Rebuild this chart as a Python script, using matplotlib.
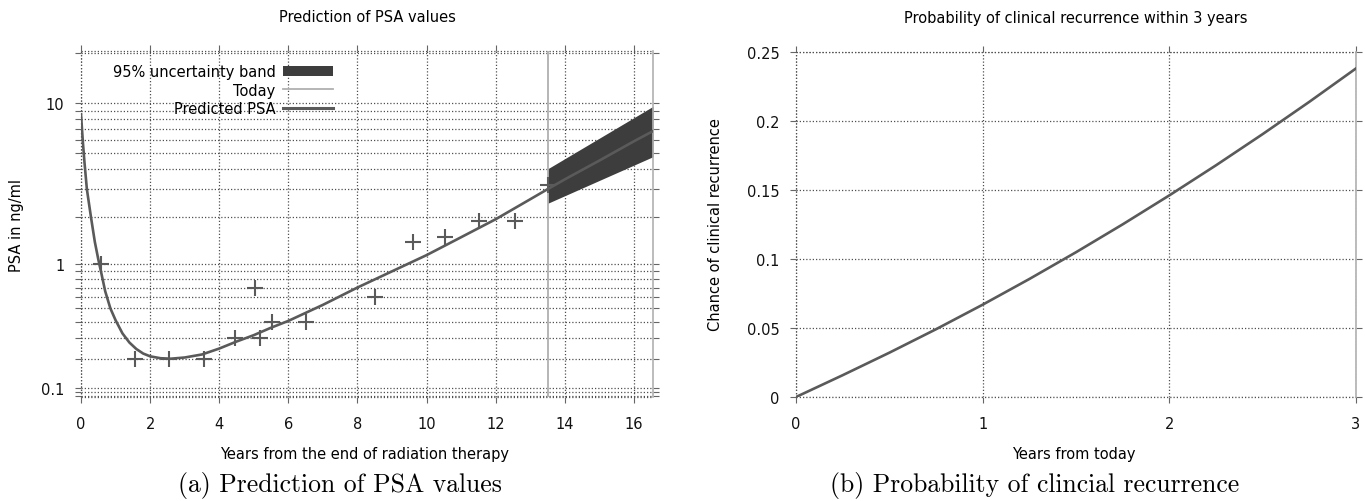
import numpy as np
import matplotlib
matplotlib.use("Agg")
import matplotlib.pyplot as plt
from matplotlib.patches import Patch
from matplotlib.lines import Line2D
from matplotlib.ticker import FixedLocator, FixedFormatter, NullFormatter

# ---------------- data ----------------
# observed PSA measurements (years, ng/ml)
obs_years = [0.57, 1.55, 2.55, 3.55, 4.46, 5.04, 5.19, 5.54, 6.51, 8.52, 9.6, 10.54, 11.52, 12.55, 13.5]
obs_psa = [1.0, 0.2, 0.2, 0.2, 0.3, 0.7, 0.3, 0.4, 0.4, 0.6, 1.4, 1.5, 1.9, 1.9, 3.2]

# predicted PSA curve
pred_years = [0.0, 0.05, 0.1, 0.17, 0.29, 0.4, 0.5, 0.6, 0.7, 0.85, 1.0, 1.2, 1.4, 1.6, 1.8,
              2.0, 2.3, 2.6, 3.0, 3.5, 4.0, 4.5, 5.0, 5.5, 6.0, 7.0, 8.0, 9.0, 10.0, 11.0,
              12.0, 13.0, 13.5, 14.0, 15.0, 16.0, 16.55]
pred_psa = [8.6, 6.0, 4.4, 3.0, 2.0, 1.4, 1.08, 0.85, 0.66, 0.5, 0.41, 0.325, 0.275, 0.243, 0.222,
            0.21, 0.202, 0.2, 0.205, 0.218, 0.245, 0.28, 0.315, 0.36, 0.405, 0.53, 0.7, 0.9, 1.15, 1.5,
            1.95, 2.6, 3.0, 3.45, 4.5, 5.9, 6.8]

# 95% uncertainty band
band_years = [13.5, 16.55]
band_low = [2.45, 4.75]
band_high = [4.0, 9.6]

today = 13.5

# probability of clinical recurrence
rec_years = [0, 0.25, 0.5, 0.75, 1.0, 1.25, 1.5, 1.75, 2.0, 2.25, 2.5, 2.75, 3.0]
rec_prob = [0, 0.0158, 0.0321, 0.0491, 0.0669, 0.0855, 0.1049, 0.1251, 0.1461, 0.1679, 0.1905, 0.2139, 0.2381]

psa_major = [0.1, 1, 10]
psa_major_labels = ["0.1", "1", "10"]
psa_minor = [0.08, 0.09, 0.2, 0.3, 0.4, 0.5, 0.6, 0.7, 0.8, 0.9, 2, 3, 4, 5, 6, 7, 8, 9, 20]
prob_ticks = [0, 0.05, 0.1, 0.15, 0.2, 0.25]
prob_labels = ["0", "0.05", "0.1", "0.15", "0.2", "0.25"]

# ---------------- style ----------------
W, H = 1365, 502
fig = plt.figure(figsize=(W / 100, H / 100), dpi=100)
plt.rcParams['font.family'] = ['DejaVu Sans']

line_col = '#5a5a5a'
band_col = '#3d3d3d'
today_col = '#b0b0b0'
grid_kw = dict(color='#505050', linestyle=(0, (1, 1.6)), linewidth=0.9)
tick_fs = 10.5
lab_fs = 10.5

def px_axes(x0, x1, ytop, ybot):
    return fig.add_axes([x0 / W, 1 - ybot / H, (x1 - x0) / W, (ybot - ytop) / H])

def style_axes(ax):
    for s in ['left', 'top', 'bottom']:
        ax.spines[s].set_visible(False)
    ax.spines['right'].set_color(today_col)
    ax.spines['right'].set_linewidth(1.2)
    ax.tick_params(which='both', direction='out', length=4, width=0.8, color='#666666',
                   top=True, right=True, labelsize=tick_fs, labelcolor='#111111')
    ax.tick_params(axis='x', pad=10)
    ax.tick_params(axis='y', pad=8)
    ax.set_axisbelow(True)

def edge_lines(ax):
    x0, x1 = ax.get_xlim()
    y0, y1 = ax.get_ylim()
    ax.axhline(y0, clip_on=False, zorder=1, **grid_kw)
    ax.axhline(y1, clip_on=False, zorder=1, **grid_kw)
    ax.axvline(x0, clip_on=False, zorder=1, **grid_kw)

# ---------------- left panel ----------------
c = 0.1
ax1 = px_axes(81, 653, 52, 398)
ax1.set_yscale('function', functions=(lambda y: np.log10(np.asarray(y) + c),
                                      lambda f: 10 ** np.asarray(f) - c))
ax1.set_xlim(0, 16.55)
ax1.set_ylim(0.077, 20.7)
ax1.yaxis.set_major_locator(FixedLocator(psa_major))
ax1.yaxis.set_major_formatter(FixedFormatter(psa_major_labels))
ax1.yaxis.set_minor_locator(FixedLocator(psa_minor))
ax1.yaxis.set_minor_formatter(NullFormatter())
ax1.set_xticks(np.arange(0, 17, 2))
style_axes(ax1)
ax1.grid(True, which='major', **grid_kw)
ax1.grid(True, which='minor', axis='y', **grid_kw)
edge_lines(ax1)

ax1.fill_between(band_years, band_low, band_high, color=band_col, linewidth=0, zorder=2,
                 label='95% uncertainty band')
ax1.axvline(today, color=today_col, linewidth=1.3, zorder=2, label='Today')
ax1.plot(pred_years, pred_psa, color=line_col, linewidth=1.9, zorder=3, label='Predicted PSA')
ax1.plot(obs_years, obs_psa, linestyle='none', marker='+', markersize=11, markeredgewidth=1.5,
         color=line_col, zorder=4)

handles = [Patch(facecolor=band_col, edgecolor='none'),
           Line2D([], [], color=today_col, linewidth=1.3),
           Line2D([], [], color=line_col, linewidth=2.2)]
labels = ['95% uncertainty band', 'Today', 'Predicted PSA']
leg = ax1.legend(handles, labels, loc='upper right', bbox_to_anchor=(0.446, 0.97),
                 frameon=False, markerfirst=False, fontsize=10.5, handlelength=3.45,
                 handletextpad=0.5, labelspacing=0.22, borderaxespad=0, borderpad=0.2)
for col in leg._legend_handle_box.get_children():
    col.align = 'right'

# ---------------- right panel ----------------
ax2 = px_axes(796, 1356, 53, 398)
ax2.set_xlim(0, 3)
ax2.set_ylim(0, 0.25)
ax2.set_xticks([0, 1, 2, 3])
ax2.set_yticks(prob_ticks)
ax2.set_yticklabels(prob_labels)
style_axes(ax2)
ax2.grid(True, which='major', **grid_kw)
edge_lines(ax2)
ax2.plot(rec_years, rec_prob, color=line_col, linewidth=1.9, zorder=3)

# ---------------- texts ----------------
def ftext(x, y, s, **kw):
    fig.text(x / W, 1 - y / H, s, ha='center', va='center', **kw)

ftext(367, 18, 'Prediction of PSA values', fontsize=lab_fs)
ftext(1076, 18, 'Probability of clinical recurrence within 3 years', fontsize=lab_fs)
ftext(365, 455, 'Years from the end of radiation therapy', fontsize=lab_fs)
ftext(1074, 455, 'Years from today', fontsize=lab_fs)
ftext(17, 225, 'PSA in ng/ml', fontsize=lab_fs, rotation=90)
ftext(715, 225, 'Chance of clinical recurrence', fontsize=lab_fs, rotation=90)
ftext(340, 486, '(a) Prediction of PSA values', fontsize=18.5, family='cmr10')
ftext(1035, 486, '(b) Probability of clincial recurrence', fontsize=18.5, family='cmr10')

fig.savefig('out.png', dpi=100)
